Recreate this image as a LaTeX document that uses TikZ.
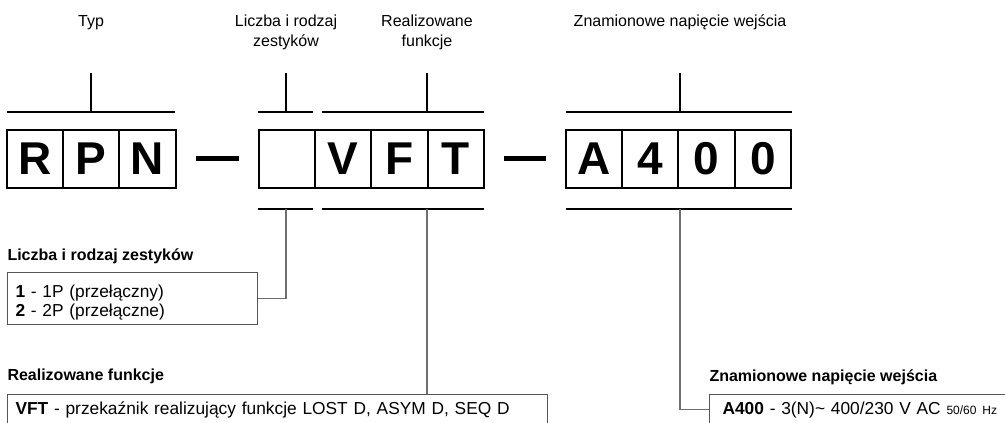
\documentclass[tikz,border=0pt]{standalone}
\usepackage{fontspec}
\setmainfont{Liberation Sans}
\usetikzlibrary{positioning}

\definecolor{linkgray}{RGB}{110,110,110}
\definecolor{framegray}{RGB}{85,85,85}

\newcommand{\lblfont}{\fontsize{12}{15}\selectfont}
\newcommand{\hdfont}{\fontsize{12}{14}\selectfont\bfseries}
\newcommand{\lgfont}{\fontsize{13}{14}\selectfont}
\newcommand{\chrfont}{\fontsize{34.5}{40}\selectfont\bfseries}

\tikzset{every picture/.style={line width=0.75pt}}
\tikzset{
  charbox/.style={draw, line width=1.5pt, outer sep=0pt, inner sep=0pt,
    minimum width=42.2pt, minimum height=43.5pt, font=\chrfont},
  bracket/.style={draw, line width=1.1pt},
  dashbar/.style={draw, line width=3.75pt},
  connector/.style={draw=linkgray, line width=0.8pt},
  legendbox/.style={draw=framegray, line width=0.8pt, anchor=north west,
    align=left, inner xsep=6pt, font=\lgfont},
}

\begin{document}
\begin{tikzpicture}[x=0.75pt,y=0.75pt,yscale=-1,xscale=1]
\useasboundingbox (0,0) rectangle (1005,423);
\clip (0,0) rectangle (1005,423);

%Shape: Character boxes
\draw (35,159) node [charbox] (R) {R};
\node [charbox, right=0pt of R] (P) {P};
\node [charbox, right=0pt of P] (N) {N};
\draw (287,159) node [charbox] (E) {};
\node [charbox, right=0pt of E] (V) {V};
\node [charbox, right=0pt of V] (F) {F};
\node [charbox, right=0pt of F] (T) {T};
\draw (594,159) node [charbox] (A) {A};
\node [charbox, right=0pt of A] (D4) {4};
\node [charbox, right=0pt of D4] (D0) {0};
\node [charbox, right=0pt of D0] (D00) {0};

%Straight Lines: separators
\draw [dashbar] ([xshift=15pt]N.east) -- ([xshift=-15pt]E.west);
\draw [dashbar] ([xshift=15pt]T.east) -- ([xshift=-15pt]A.west);

%Shape: Top brackets
\coordinate (typL) at (7,112); \coordinate (typR) at (175,112);
\coordinate (typM) at (91,112); \coordinate (typT) at (91,73);
\draw [bracket] (typL) -- (typR) (typM) -- (typT);
\coordinate (licL) at (258,112); \coordinate (licR) at (313,112);
\coordinate (licM) at (286,112); \coordinate (licT) at (286,73);
\draw [bracket] (licL) -- (licR) (licM) -- (licT);
\coordinate (funL) at (322,112); \coordinate (funR) at (484,112);
\coordinate (funM) at (427,112); \coordinate (funT) at (427,73);
\draw [bracket] (funL) -- (funR) (funM) -- (funT);
\coordinate (napL) at (566,112); \coordinate (napR) at (792,112);
\coordinate (napM) at (680,112); \coordinate (napT) at (680,73);
\draw [bracket] (napL) -- (napR) (napM) -- (napT);

%Shape: Bottom brackets
\coordinate (licBL) at (258,209); \coordinate (licBR) at (313,209);
\coordinate (licBM) at (286,209);
\draw [bracket] (licBL) -- (licBR);
\coordinate (funBL) at (322,209); \coordinate (funBR) at (484,209);
\coordinate (funBM) at (427,209);
\draw [bracket] (funBL) -- (funBR);
\coordinate (napBL) at (566,209); \coordinate (napBR) at (792,209);
\coordinate (napBM) at (680,209);
\draw [bracket] (napBL) -- (napBR);

% Text Node
\draw (91,23) node [inner sep=0.75pt, font=\lblfont] (typlbl) {Typ};
% Text Node
\draw (286,32) node [inner sep=0.75pt, align=center, font=\lblfont] (liclbl) {Liczba i rodzaj\\zestyków};
% Text Node
\draw (427,32) node [inner sep=0.75pt, align=center, font=\lblfont] (funlbl) {Realizowane\\funkcje};
% Text Node
\draw (680,22) node [inner sep=0.75pt, font=\lblfont] (naplbl) {Znamionowe napięcie wejścia};

% Text Node
\draw (7,256) node [anchor=west, inner sep=0pt, font=\hdfont] (lichd) {Liczba i rodzaj zestyków};
% Text Node
\draw (7,376) node [anchor=west, inner sep=0pt, font=\hdfont] (funhd) {Realizowane funkcje};
% Text Node
\draw (709,377) node [anchor=west, inner sep=0pt, font=\hdfont] (naphd) {Znamionowe napięcie wejścia};

%Shape: Legend boxes
\draw (7,272) node [legendbox, text width=175.5pt, minimum height=39pt] (licbox)
  {\rule{0pt}{15pt}\textbf{1} - 1P (przełączny)\\\textbf{2} - 2P (przełączne)};
\draw (7,394) node [legendbox, text width=393pt, minimum height=23pt] (funbox)
  {\textbf{VFT} - przekaźnik realizujący funkcje LOST D, ASYM D, SEQ D};
\draw (709,394) node [legendbox, inner xsep=9.75pt, text width=260pt, minimum height=23pt] (napbox)
  {\textbf{A400} - 3(N)\textasciitilde{} 400/230 V AC {\fontsize{9}{10}\selectfont 50/60 Hz}};

%Straight Lines: connectors
\draw [connector] (licBM) |- (licbox.east);
\draw [connector] (funBM) -- (funBM |- funbox.north);
\draw [connector] (napBM) |- (napbox.west);

\end{tikzpicture}
\end{document}
